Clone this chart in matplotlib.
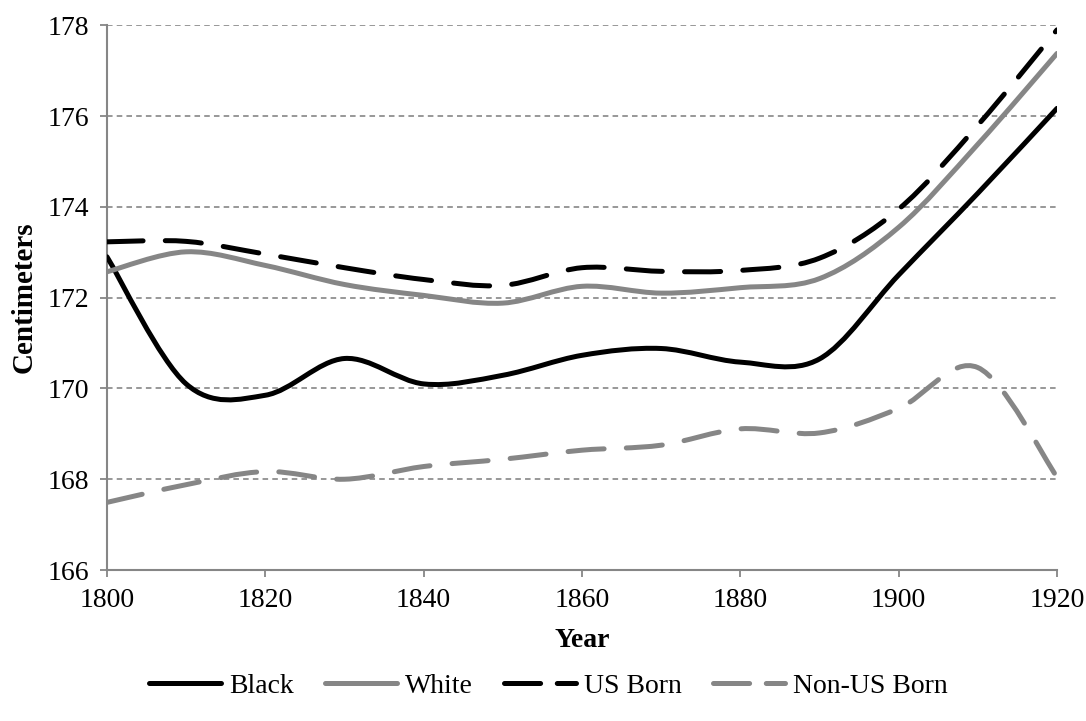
import matplotlib
matplotlib.use("Agg")
import matplotlib.pyplot as plt
from matplotlib.path import Path
from matplotlib.patches import PathPatch
from matplotlib.lines import Line2D

plt.rcParams['font.family'] = ['Liberation Serif', 'DejaVu Serif']
plt.rcParams['lines.scale_dashes'] = False

years = [1800, 1810, 1820, 1830, 1840, 1850, 1860, 1870, 1880, 1890, 1900, 1910, 1920]
black = [172.90, 170.10, 169.85, 170.66, 170.10, 170.29, 170.73, 170.88, 170.58, 170.65, 172.50, 174.30, 176.17]
white = [172.57, 173.01, 172.71, 172.29, 172.05, 171.88, 172.25, 172.10, 172.22, 172.42, 173.55, 175.38, 177.38]
us_born = [173.23, 173.24, 172.96, 172.66, 172.40, 172.27, 172.66, 172.58, 172.60, 172.87, 173.95, 175.80, 177.90]
non_us_born = [167.49, 167.88, 168.17, 168.00, 168.28, 168.44, 168.64, 168.75, 169.11, 169.02, 169.56, 170.46, 168.05]

series_names = ["Black", "White", "US Born", "Non-US Born"]
x_ticks = [1800, 1820, 1840, 1860, 1880, 1900, 1920]
y_ticks = [166, 168, 170, 172, 174, 176, 178]

GRAY = "#868686"
FS = 20
LEG_FS = 20


def smooth_path(xs, ys):
    """Excel-style smoothed line as cubic Bezier segments through the data points."""
    pts = list(zip(xs, ys))
    n = len(pts)
    verts = [pts[0]]
    codes = [Path.MOVETO]
    for i in range(n - 1):
        p0 = pts[i - 1] if i > 0 else pts[i]
        p1 = pts[i]
        p2 = pts[i + 1]
        p3 = pts[i + 2] if i + 2 < n else pts[i + 1]
        c1 = (p1[0] + (p2[0] - p0[0]) / 6.0, p1[1] + (p2[1] - p0[1]) / 6.0)
        c2 = (p2[0] - (p3[0] - p1[0]) / 6.0, p2[1] - (p3[1] - p1[1]) / 6.0)
        verts += [c1, c2, p2]
        codes += [Path.CURVE4] * 3
    return Path(verts, codes)


fig = plt.figure(figsize=(10.86, 7.21), dpi=100)
ax = fig.add_axes([0.0985, 0.2094, 0.8748, 0.7555])

LW = 3.6
styles = [
    dict(color="black", linestyle="-"),
    dict(color=GRAY, linestyle="-"),
    dict(color="black", linestyle=(0, (26, 16))),
    dict(color=GRAY, linestyle=(0, (26, 16))),
]
data = [black, white, us_born, non_us_born]

handles = []
for name, vals, st in zip(series_names, data, styles):
    patch = PathPatch(smooth_path(years, vals), fill=False, edgecolor=st["color"],
                      linewidth=LW, linestyle=st["linestyle"], capstyle="round",
                      joinstyle="round", zorder=3)
    ax.add_patch(patch)
    leg_ls = st["linestyle"] if st["linestyle"] == "-" else (0, (26, 12))
    handles.append(Line2D([], [], color=st["color"], lw=LW, linestyle=leg_ls,
                          solid_capstyle="round", dash_capstyle="round", label=name))

ax.set_xlim(1800, 1920)
ax.set_ylim(166, 178)
ax.set_xticks(x_ticks)
ax.set_yticks(y_ticks)
ax.tick_params(axis="both", labelsize=FS, colors=GRAY, labelcolor="black",
               direction="out", length=5, width=1.3)
ax.tick_params(axis="y", pad=8)
ax.tick_params(axis="x", pad=8)

ax.yaxis.grid(True, linestyle=(0, (4, 3)), color=GRAY, linewidth=1.2)
ax.set_axisbelow(True)
for s in ["top", "right"]:
    ax.spines[s].set_visible(False)
for s in ["left", "bottom"]:
    ax.spines[s].set_color(GRAY)
    ax.spines[s].set_linewidth(1.5)

ax.set_xlabel("Year", fontsize=FS, fontweight="bold", labelpad=11)
ax.set_ylabel("Centimeters", fontsize=FS + 1, fontweight="bold", labelpad=7)

fig.legend(handles=handles, loc="center", bbox_to_anchor=(0.505, 0.048), ncol=4,
           frameon=False, fontsize=LEG_FS, handlelength=2.6, handletextpad=0.3,
           columnspacing=1.1)

fig.savefig("out.png", dpi=100)
